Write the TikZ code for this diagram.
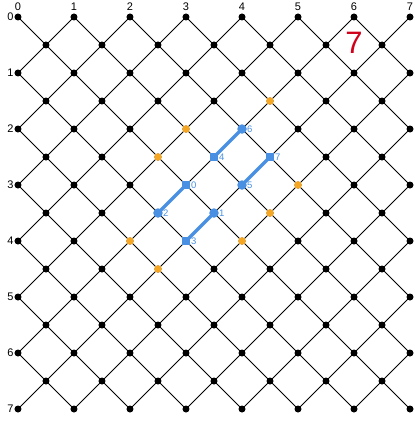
\documentclass[tikz,border=0pt]{standalone}
\usepackage{fontspec}
\setmainfont{Liberation Sans}
\definecolor{bluec}{HTML}{4A90E2}
\definecolor{orangec}{HTML}{F5A623}
\definecolor{redc}{HTML}{D0021B}
\begin{document}
\begin{tikzpicture}[x=56pt,y=-56pt,
  dot/.style={circle,fill=black,inner sep=0pt,minimum size=7pt},
  odot/.style={circle,fill=orangec,inner sep=0pt,minimum size=7.6pt},
  bcirc/.style={circle,fill=bluec,inner sep=0pt,minimum size=9.5pt},
  bsq/.style={rectangle,fill=bluec,inner sep=0pt,minimum size=8.5pt},
  blab/.style={text=bluec,font=\fontsize{9.5}{9.5}\selectfont,inner sep=0pt,anchor=west},
  axlab/.style={font=\fontsize{11}{11}\selectfont,inner sep=0pt},
  gridline/.style={line width=0.8pt},
  bline/.style={draw=bluec,line width=3.5pt}]
\useasboundingbox (-0.3214,-0.3036) rectangle (7.0893,7.3036);
\begin{scope}
\clip (0,0) rectangle (7,7);
\foreach \k in {-7,...,7} \draw[gridline] (\k,0) -- (\k+7,7);
\foreach \k in {0,...,14} \draw[gridline] (\k,0) -- (\k-7,7);
\end{scope}
\foreach \i in {0,...,7} \foreach \j in {0,...,7} \node[dot] (p-\i-\j) at (\i,\j) {};
\foreach \i in {0,...,6} \foreach \j in {0,...,6} \node[dot] (c-\i-\j) at (\i+0.5,\j+0.5) {};
\foreach \i in {0,...,7} {
  \node[axlab] (tx\i) at (\i,-0.19) {\i};
  \node[axlab] (ly\i) at (-0.134,\i) {\i};
}
\foreach \p [count=\n] in {{4.5,1.5},{3,2},{2.5,2.5},{5,3},{4.5,3.5},{4,4},{2,4},{2.5,4.5}}
  \node[odot] (o\n) at (\p) {};
\draw[bline] (3,3) -- (2.5,3.5);
\draw[bline] (3.5,3.5) -- (3,4);
\draw[bline] (3.5,2.5) -- (4,2);
\draw[bline] (4,3) -- (4.5,2.5);
\node[bsq] (b0) at (3,3) {};
\node[bcirc] (b1) at (3.5,3.5) {};
\node[bcirc] (b2) at (2.5,3.5) {};
\node[bsq] (b3) at (3,4) {};
\node[bsq] (b4) at (3.5,2.5) {};
\node[bcirc] (b5) at (4,3) {};
\node[bcirc] (b6) at (4,2) {};
\node[bsq] (b7) at (4.5,2.5) {};
\foreach \n in {0,...,7} \node[blab] (l\n) at ([xshift=5pt]b\n.center) {\n};
\node[text=redc,font=\fontsize{31}{31}\selectfont,inner sep=0pt] (seven) at (6,0.46) {7};
\end{tikzpicture}
\end{document}
